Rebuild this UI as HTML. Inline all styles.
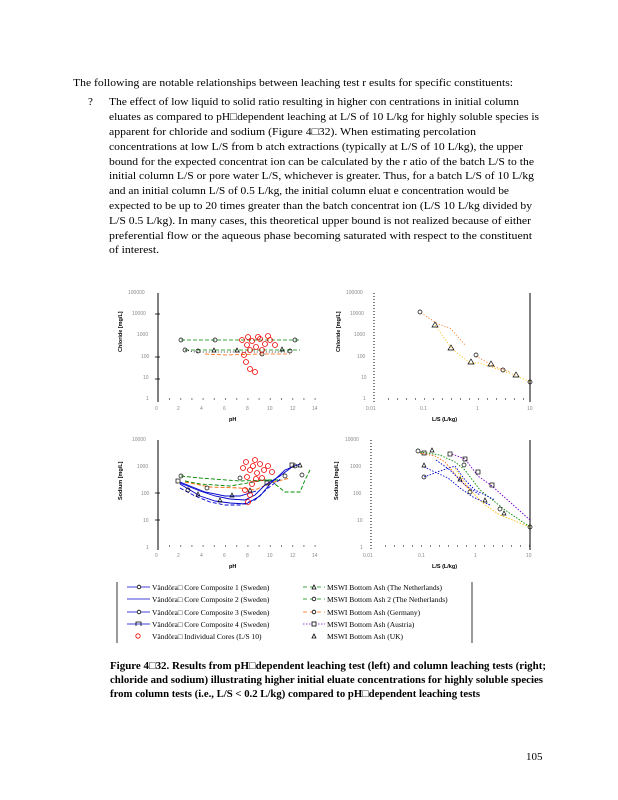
<!DOCTYPE html>
<html><head><meta charset="utf-8"><style>
html,body{margin:0;padding:0;background:#fff;}
svg{display:block;}
.t{font-family:"Liberation Serif",serif;font-size:11px;fill:#000;}
.b{font-family:"Liberation Serif",serif;font-size:11px;font-weight:bold;fill:#000;}
.s{font-family:"Liberation Serif",serif;font-size:7.5px;fill:#000;}
.tk{font-family:"Liberation Sans",sans-serif;font-size:5px;fill:#8a8a8a;}
.ax{font-family:"Liberation Sans",sans-serif;font-size:5.5px;font-weight:bold;fill:#000;}
</style></head><body>
<svg width="618" height="800" viewBox="0 0 618 800" xmlns="http://www.w3.org/2000/svg">
<rect width="618" height="800" fill="#fff"/>
<text class="t" x="73" y="86" textLength="440" lengthAdjust="spacingAndGlyphs">The following are notable relationships between leaching test r   esults for specific constituents:</text>
<text class="t" x="88" y="105">?</text>
<text class="t" x="109" y="105" textLength="410" lengthAdjust="spacingAndGlyphs">The effect of low liquid to solid ratio resulting in higher con centrations in initial column</text>
<text class="t" x="109" y="120" textLength="430" lengthAdjust="spacingAndGlyphs">eluates as compared to pH□dependent leaching at L/S of 10 L/kg for highly soluble species is</text>
<text class="t" x="109" y="135" textLength="367" lengthAdjust="spacingAndGlyphs">apparent for chloride and sodium   (Figure 4□32).  When estimating percolation</text>
<text class="t" x="109" y="150" textLength="414" lengthAdjust="spacingAndGlyphs">concentrations at low L/S from b atch extractions (typically at L/S of 10 L/kg), the upper</text>
<text class="t" x="109" y="165" textLength="425" lengthAdjust="spacingAndGlyphs">bound for the expected concentrat ion can be calculated by the r atio of the batch L/S to the</text>
<text class="t" x="109" y="179" textLength="425" lengthAdjust="spacingAndGlyphs">initial column L/S or pore water   L/S, whichever is greater.  Thus, for a batch L/S of 10 L/kg</text>
<text class="t" x="109" y="194" textLength="400" lengthAdjust="spacingAndGlyphs">and an initial column L/S of 0.5  L/kg, the initial column eluat e concentration would be</text>
<text class="t" x="109" y="209" textLength="423" lengthAdjust="spacingAndGlyphs">expected to be up to 20 times greater than the batch concentrat ion (L/S 10 L/kg divided by</text>
<text class="t" x="109" y="224" textLength="422" lengthAdjust="spacingAndGlyphs">L/S 0.5 L/kg).  In many cases, this theoretical upper bound is   not realized because of either</text>
<text class="t" x="109" y="239" textLength="423" lengthAdjust="spacingAndGlyphs">preferential flow or the aqueous phase becoming saturated with     respect to the constituent</text>
<text class="t" x="109" y="253" textLength="50" lengthAdjust="spacingAndGlyphs">of interest.</text>

<!-- Top-left chart -->
<g stroke="#000" stroke-width="1" fill="none">
<line x1="158" y1="293" x2="158" y2="402"/>
</g>
<g class="tk">
<text x="128" y="294">100000</text><text x="132" y="315">10000</text><text x="137" y="336">1000</text><text x="141" y="358">100</text><text x="143" y="379">10</text><text x="146" y="400">1</text>
</g>
<g stroke="#000" stroke-width="0.8">
<line x1="155" y1="314" x2="160" y2="314"/><line x1="155" y1="357" x2="160" y2="357"/><line x1="155" y1="379" x2="160" y2="379"/>
</g>
<g stroke="#000" stroke-width="1" stroke-dasharray="1,10.2">
<line x1="169" y1="399" x2="316" y2="399"/>
</g>
<g class="tk" font-size="4.5"><text x="155" y="410">0</text><text x="177" y="410">2</text><text x="200" y="410">4</text><text x="223" y="410">6</text><text x="246" y="410">8</text><text x="267" y="410">10</text><text x="290" y="410">12</text><text x="312" y="410">14</text></g>
<text class="ax" x="229" y="421">pH</text>
<text class="ax" transform="translate(122,352) rotate(-90)">Chloride  [mg/L]</text>
<g fill="none" stroke-width="0.8">
<polyline points="181,340 210,340 225,340 290,340 300,340" stroke="#080" stroke-dasharray="4,2"/>
<polyline points="185,350 200,350 240,350 290,350 300,350" stroke="#080" stroke-dasharray="4,2"/>
<polyline points="205,354 225,355 260,354 290,354" stroke="#f60" stroke-dasharray="4,2"/>
<polyline points="185,350 195,352 215,352 240,352 260,352 290,352" stroke="#000" stroke-dasharray="1,2"/>
</g>
<g fill="none" stroke="#000" stroke-width="0.7">
<circle cx="181" cy="340" r="2"/><circle cx="215" cy="340" r="2"/><circle cx="185" cy="350" r="2"/><circle cx="198" cy="351" r="2"/><circle cx="262" cy="354" r="2"/><circle cx="290" cy="351" r="2"/><circle cx="295" cy="340" r="2"/>
<path d="M212 352 l2 -4 l2 4z M235 352 l2 -4 l2 4z M280 351 l2 -4 l2 4z"/>
</g>
<g fill="none" stroke="#e00" stroke-width="0.8">
<circle cx="242" cy="340" r="2.5"/><circle cx="247" cy="345" r="2.5"/><circle cx="252" cy="341" r="2.5"/><circle cx="256" cy="347" r="2.5"/><circle cx="260" cy="339" r="2.5"/><circle cx="265" cy="344" r="2.5"/><circle cx="270" cy="340" r="2.5"/><circle cx="275" cy="345" r="2.5"/><circle cx="250" cy="350" r="2.5"/><circle cx="244" cy="355" r="2.5"/><circle cx="246" cy="362" r="2.5"/><circle cx="250" cy="369" r="2.5"/><circle cx="255" cy="372" r="2.5"/><circle cx="258" cy="337" r="2.5"/><circle cx="248" cy="337" r="2.5"/><circle cx="262" cy="350" r="2.5"/><circle cx="268" cy="336" r="2.5"/>
</g>

<!-- Top-right chart -->
<line x1="374" y1="293" x2="374" y2="402" stroke="#000" stroke-width="1" stroke-dasharray="1,2"/>
<line x1="530" y1="293" x2="530" y2="402" stroke="#000" stroke-width="1"/>
<g class="tk">
<text x="346" y="294">100000</text><text x="350" y="315">10000</text><text x="354" y="336">1000</text><text x="357" y="358">100</text><text x="361" y="379">10</text><text x="363" y="400">1</text>
</g>
<line x1="388" y1="399" x2="530" y2="399" stroke="#000" stroke-width="1" stroke-dasharray="1,8"/>
<g class="tk" font-size="4.5"><text x="366" y="410">0.01</text><text x="420" y="410">0.1</text><text x="476" y="410">1</text><text x="527" y="410">10</text></g>
<text class="ax" x="432" y="421">L/S     (L/kg)</text>
<text class="ax" transform="translate(340,352) rotate(-90)">Chloride  [mg/L]</text>
<g fill="none" stroke-width="0.9" stroke-dasharray="1,2">
<polyline points="421,313 438,324 450,328 465,345" stroke="#f60"/>
<polyline points="435,325 452,349 470,363 480,363 500,370 515,375 530,382" stroke="#fb0"/>
<polyline points="476,356 495,367 510,372" stroke="#f60"/>
</g>
<g fill="none" stroke="#000" stroke-width="0.7">
<circle cx="420" cy="312" r="2"/><circle cx="476" cy="355" r="2"/><circle cx="530" cy="382" r="2"/><circle cx="503" cy="370" r="2"/>
<path d="M432 327 l3 -5 l3 5z M448 350 l3 -5 l3 5z M468 364 l3 -5 l3 5z M488 366 l3 -5 l3 5z M513 377 l3 -5 l3 5z"/>
</g>

<!-- Bottom-left chart -->
<line x1="158" y1="440" x2="158" y2="550" stroke="#000" stroke-width="1"/>
<g class="tk"><text x="132" y="441">10000</text><text x="137" y="468">1000</text><text x="141" y="495">100</text><text x="143" y="522">10</text><text x="146" y="549">1</text></g>
<g stroke="#000" stroke-width="0.8"><line x1="155" y1="493" x2="160" y2="493"/><line x1="155" y1="520" x2="160" y2="520"/></g>
<line x1="169" y1="546" x2="316" y2="546" stroke="#000" stroke-width="1" stroke-dasharray="1,10.2"/>
<g class="tk" font-size="4.5"><text x="155" y="557">0</text><text x="177" y="557">2</text><text x="200" y="557">4</text><text x="223" y="557">6</text><text x="246" y="557">8</text><text x="267" y="557">10</text><text x="290" y="557">12</text><text x="312" y="557">14</text></g>
<text class="ax" x="229" y="568">pH</text>
<text class="ax" transform="translate(122,500) rotate(-90)">Sodium    [mg/L]</text>
<g fill="none" stroke-width="0.9">
<polyline points="181,476 200,478 240,481 270,480 285,492 300,492 305,480 310,470" stroke="#080" stroke-dasharray="4,2"/>
<polyline points="185,481 200,484 230,486 265,480 280,480" stroke="#080" stroke-dasharray="4,2"/>
<polyline points="185,482 210,487 240,488 255,490 270,483 290,478" stroke="#f60" stroke-dasharray="4,2"/>
<polyline points="180,483 200,491 215,496 230,499 245,500 255,495 265,485 280,476 292,467 300,464" stroke="#00c"/>
<polyline points="180,484 200,496 215,501 230,503 246,504 260,496 270,484 285,470 295,466" stroke="#00c"/>
<polyline points="180,488 195,496 210,502 225,505 240,505 255,500 268,488 282,478" stroke="#00c" stroke-dasharray="4,2"/>
<polyline points="180,482 205,492 225,496 240,496 256,491" stroke="#00c"/>
</g>
<g fill="none" stroke="#000" stroke-width="0.7">
<circle cx="181" cy="476" r="2"/><circle cx="188" cy="490" r="2"/><circle cx="207" cy="488" r="2"/><circle cx="285" cy="476" r="2"/><circle cx="295" cy="466" r="2"/><circle cx="302" cy="475" r="2"/><circle cx="240" cy="478" r="2"/>
<rect x="176" y="479" width="4" height="4"/><rect x="265" y="481" width="4" height="4"/><rect x="290" y="463" width="4" height="4"/>
<path d="M196 496 l2 -4 l2 4z M218 502 l2 -4 l2 4z M230 497 l2 -4 l2 4z M298 467 l2 -4 l2 4z M248 492 l2 -4 l2 4z"/>
</g>
<g fill="none" stroke="#e00" stroke-width="0.8">
<circle cx="246" cy="462" r="2.5"/><circle cx="250" cy="470" r="2.5"/><circle cx="253" cy="466" r="2.5"/><circle cx="257" cy="473" r="2.5"/><circle cx="260" cy="464" r="2.5"/><circle cx="264" cy="470" r="2.5"/><circle cx="268" cy="466" r="2.5"/><circle cx="272" cy="472" r="2.5"/><circle cx="247" cy="477" r="2.5"/><circle cx="252" cy="484" r="2.5"/><circle cx="245" cy="490" r="2.5"/><circle cx="250" cy="495" r="2.5"/><circle cx="248" cy="502" r="2.5"/><circle cx="256" cy="479" r="2.5"/><circle cx="262" cy="478" r="2.5"/><circle cx="243" cy="468" r="2.5"/><circle cx="255" cy="460" r="2.5"/>
</g>

<!-- Bottom-right chart -->
<line x1="371" y1="440" x2="371" y2="550" stroke="#000" stroke-width="1" stroke-dasharray="1,2"/>
<line x1="530" y1="440" x2="530" y2="550" stroke="#000" stroke-width="1"/>
<g class="tk"><text x="345" y="441">10000</text><text x="350" y="468">1000</text><text x="353" y="495">100</text><text x="357" y="522">10</text><text x="360" y="549">1</text></g>
<line x1="385" y1="546" x2="530" y2="546" stroke="#000" stroke-width="1" stroke-dasharray="1,8"/>
<g class="tk" font-size="4.5"><text x="363" y="557">0.01</text><text x="418" y="557">0.1</text><text x="474" y="557">1</text><text x="526" y="557">10</text></g>
<text class="ax" x="432" y="568">L/S     (L/kg)</text>
<text class="ax" transform="translate(338,500) rotate(-90)">Sodium    [mg/L]</text>
<g fill="none" stroke-width="0.9" stroke-dasharray="1.5,1.5">
<polyline points="452,454 465,459 478,476 492,486 530,520" stroke="#70c"/>
<polyline points="420,452 440,455 455,462 465,470 480,490 505,510 530,527" stroke="#080"/>
<polyline points="420,453 435,456 445,462 460,480 470,490" stroke="#f60"/>
<polyline points="455,468 470,490 485,505 500,515 530,527" stroke="#fb0"/>
<polyline points="424,477 440,471 455,466 465,480 475,490 495,500" stroke="#00c"/>
<polyline points="424,467 448,478 460,488 473,497 490,505" stroke="#00c"/>
<polyline points="436,460 450,470 465,485 480,495" stroke="#00c"/>
</g>
<g fill="none" stroke="#000" stroke-width="0.7">
<circle cx="418" cy="451" r="2"/><circle cx="424" cy="477" r="2"/><circle cx="470" cy="492" r="2"/><circle cx="500" cy="509" r="2"/><circle cx="530" cy="527" r="2"/><circle cx="464" cy="465" r="2"/>
<rect x="422" y="451" width="4" height="4"/><rect x="448" y="452" width="4" height="4"/><rect x="463" y="457" width="4" height="4"/><rect x="476" y="470" width="4" height="4"/><rect x="490" y="483" width="4" height="4"/>
<path d="M422 467 l2 -4 l2 4z M430 452 l2 -4 l2 4z M458 481 l2 -4 l2 4z M483 502 l2 -4 l2 4z M502 515 l2 -4 l2 4z"/>
</g>

<!-- Legend -->
<line x1="117" y1="582" x2="117" y2="643" stroke="#000" stroke-width="0.8"/>
<line x1="472" y1="582" x2="472" y2="643" stroke="#000" stroke-width="0.8"/>
<g stroke-width="0.8" fill="none">
<line x1="127" y1="587" x2="150" y2="587" stroke="#00c"/><line x1="127" y1="599" x2="150" y2="599" stroke="#00c"/><line x1="127" y1="612" x2="150" y2="612" stroke="#00c"/><line x1="127" y1="624" x2="150" y2="624" stroke="#00c"/>
<circle cx="139" cy="587" r="1.8" stroke="#000" fill="#fff"/><circle cx="139" cy="612" r="1.8" stroke="#000" fill="#fff"/>
<path d="M136 626 v-4 h5 v4" stroke="#000"/>
<circle cx="138" cy="636" r="2.2" stroke="#e00"/>
<line x1="303" y1="587" x2="325" y2="587" stroke="#080" stroke-dasharray="4,3"/><line x1="303" y1="599" x2="325" y2="599" stroke="#080" stroke-dasharray="4,3"/><line x1="303" y1="612" x2="325" y2="612" stroke="#f60" stroke-dasharray="4,3"/><line x1="303" y1="624" x2="325" y2="624" stroke="#70c" stroke-dasharray="1.5,1.5"/>
<path d="M312 589 l2 -4 l2 4z M312 638 l2 -4 l2 4z" stroke="#000" fill="#fff"/>
<circle cx="314" cy="599" r="1.8" stroke="#000" fill="#fff"/><circle cx="314" cy="612" r="1.8" stroke="#000" fill="#fff"/>
<rect x="312" y="622" width="4" height="4" stroke="#000" fill="#fff"/>
</g>
<g class="s">
<text x="152" y="590">Vändöra□ Core Composite  1 (Sweden)</text>
<text x="152" y="602">Vändöra□ Core Composite  2 (Sweden)</text>
<text x="152" y="615">Vändöra□ Core Composite  3 (Sweden)</text>
<text x="152" y="627">Vändöra□ Core Composite  4 (Sweden)</text>
<text x="152" y="639">Vändöra□ Individual Cores (L/S 10)</text>
<text x="327" y="590">MSWI Bottom  Ash (The Netherlands)</text>
<text x="327" y="602">MSWI Bottom  Ash 2  (The Netherlands)</text>
<text x="327" y="615">MSWI Bottom  Ash (Germany)</text>
<text x="327" y="627">MSWI Bottom  Ash (Austria)</text>
<text x="327" y="639">MSWI Bottom  Ash (UK)</text>
</g>

<!-- Caption -->
<text class="b" x="110" y="669" textLength="436" lengthAdjust="spacingAndGlyphs">Figure 4□32.   Results from pH□dependent leaching test (left) and column leaching tests (right;</text>
<text class="b" x="110" y="683" textLength="433" lengthAdjust="spacingAndGlyphs">chloride and sodium) illustrating higher initial eluate concentrations for highly soluble species</text>
<text class="b" x="110" y="697" textLength="370" lengthAdjust="spacingAndGlyphs">from column tests (i.e., L/S &lt; 0.2 L/kg) compared to pH□dependent leaching tests</text>
<text class="t" x="526" y="760">105</text>
</svg>
</body></html>
